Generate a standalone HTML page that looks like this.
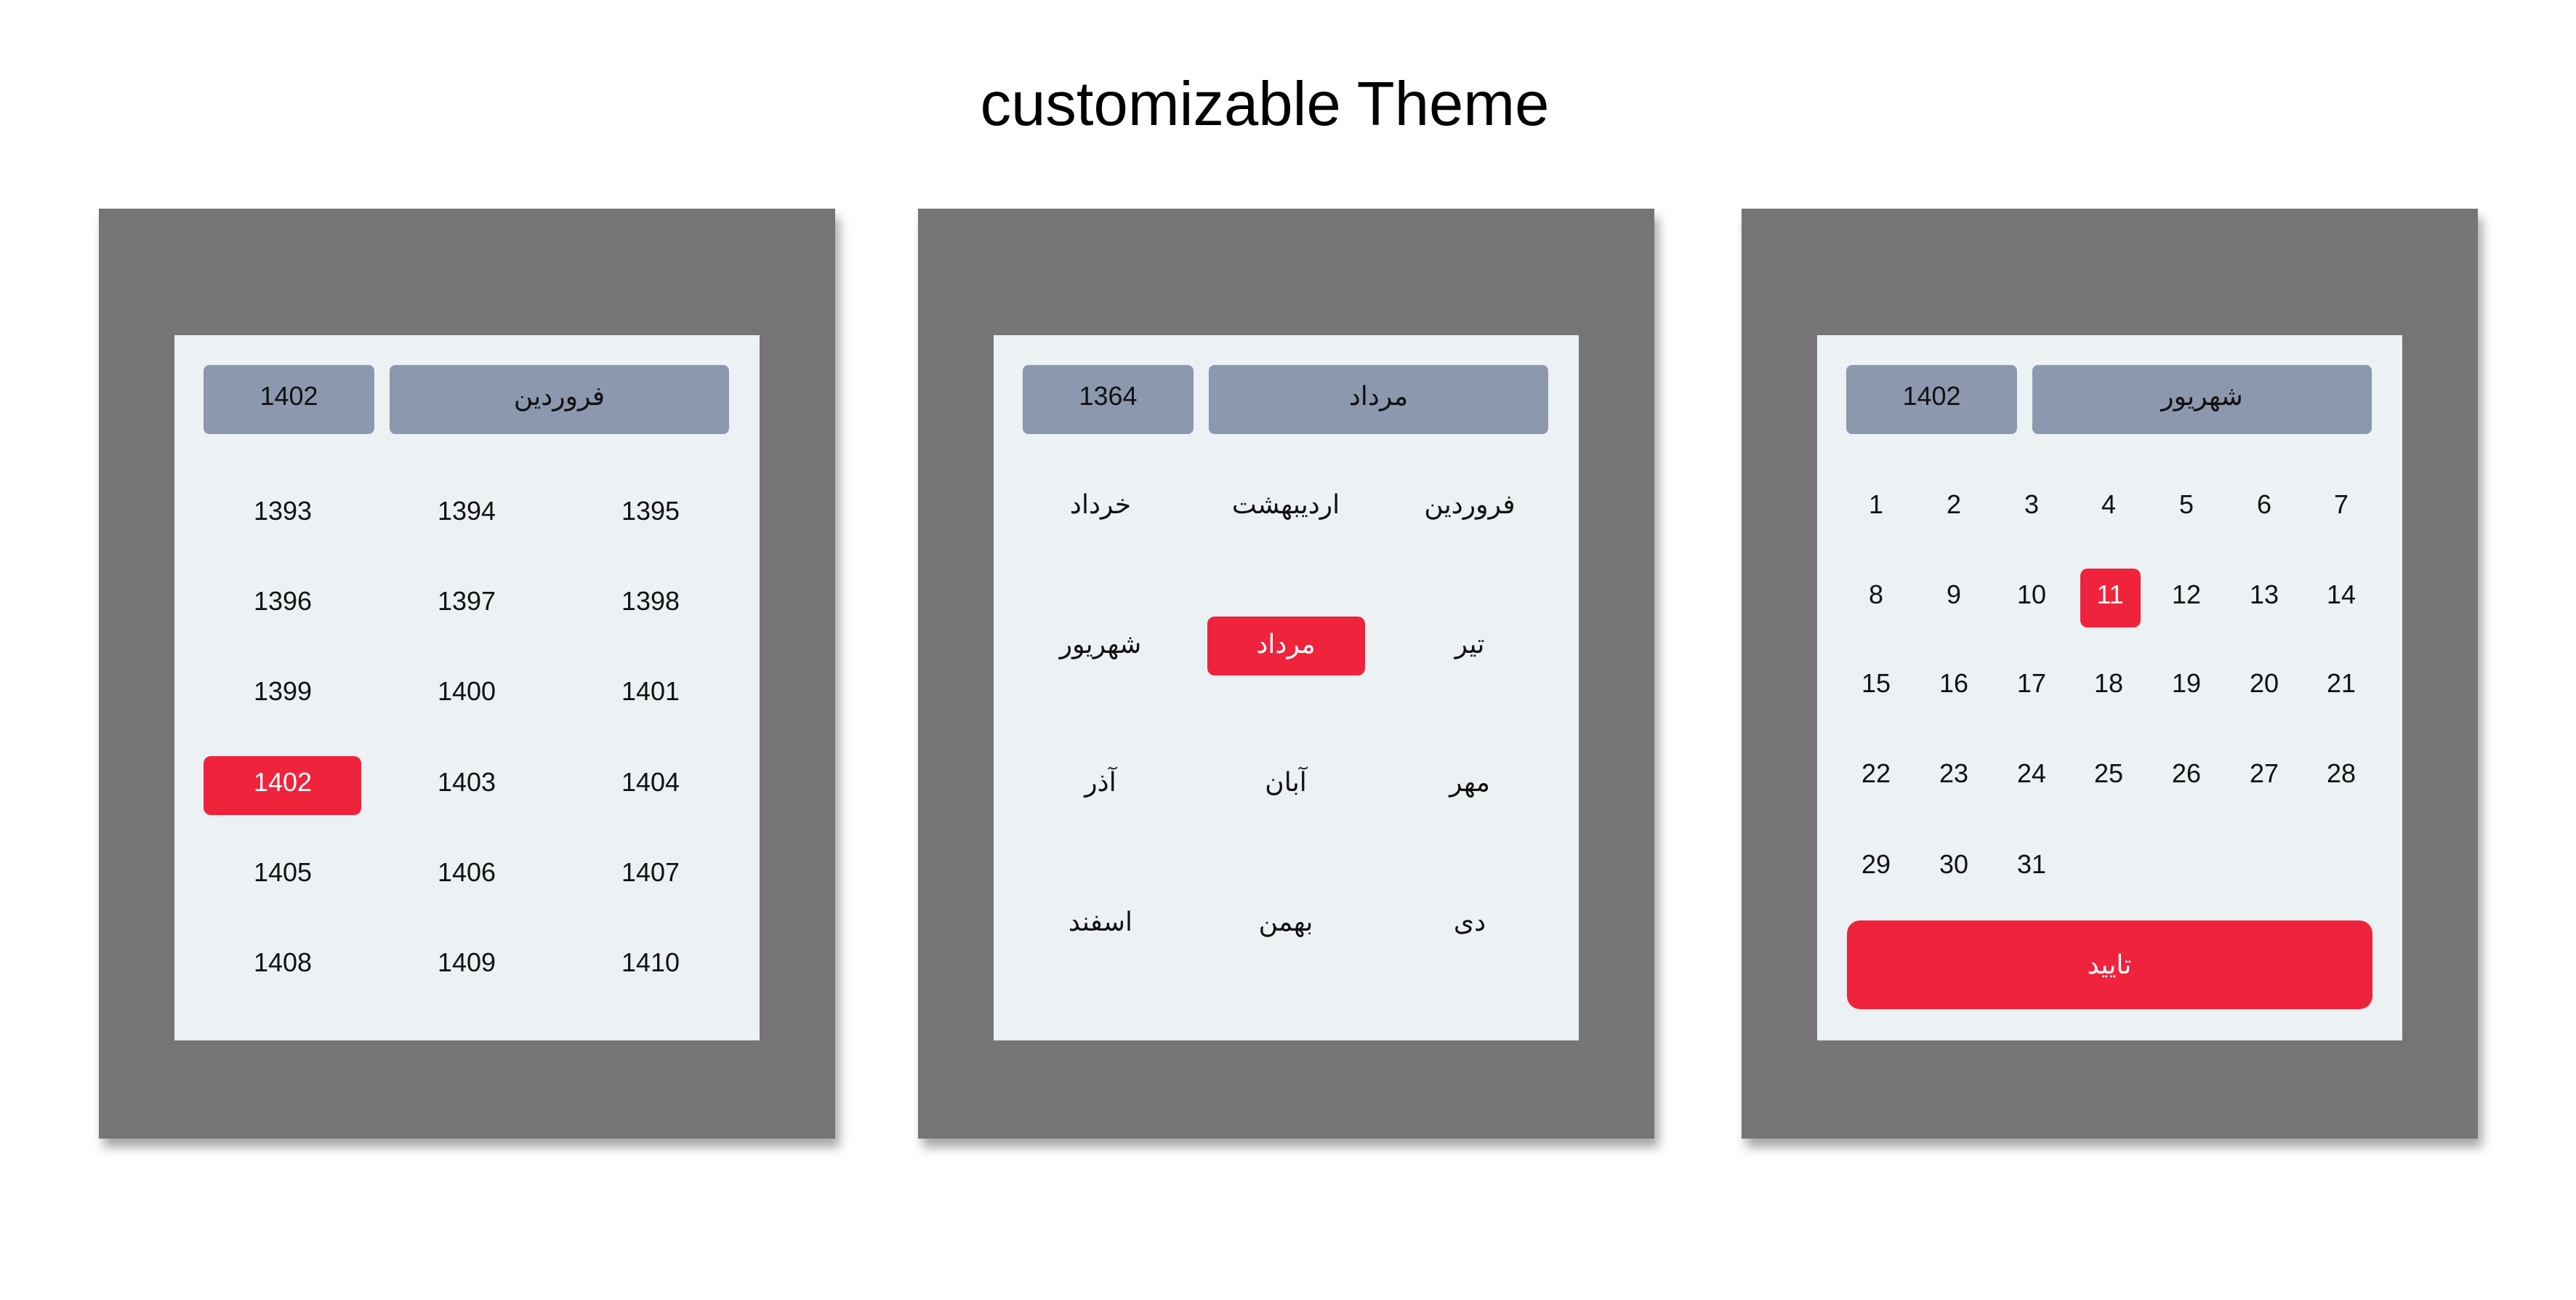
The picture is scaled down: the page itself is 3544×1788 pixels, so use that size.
<!DOCTYPE html>
<html><head><meta charset="utf-8"><style>
body{margin:0;width:3544px;height:1788px;background:#fff;position:relative;overflow:hidden;font-family:"Liberation Sans","DejaVu Sans",sans-serif;}
.title{position:absolute;left:-32px;width:3544px;top:94px;text-align:center;font-size:85px;color:#000;line-height:100px;}
.panel{position:absolute;top:287px;width:1013px;height:1279px;background:#767477;box-shadow:6px 12px 14px rgba(0,0,0,0.35);}
.inner{position:absolute;left:104px;top:174px;width:805px;height:970px;background:#ecf1f3;}
.btn{position:absolute;top:41px;height:95px;background:#8c98ae;border-radius:8px;color:#111;font-size:36px;line-height:86px;text-align:center;font-family:"Liberation Sans","DejaVu Sans",sans-serif;}
.t{position:absolute;width:220px;margin-left:-110px;text-align:center;font-size:36px;line-height:50px;margin-top:-25px;color:#111;font-family:"Liberation Sans","DejaVu Sans",sans-serif;}
.sel{position:absolute;background:#ef233c;border-radius:10px;}
.w{color:#fff;}
</style></head><body>
<div class="title">customizable Theme</div>

<div class="panel" style="left:136px"><div class="inner">
<div class="btn" style="left:40px;width:235px">1402</div>
<div class="btn" style="left:296px;width:467px">فروردین</div>
<div class="sel" style="left:40px;top:579px;width:217px;height:81px"></div>
<div class="t" style="left:149px;top:242px">1393</div><div class="t" style="left:402px;top:242px">1394</div><div class="t" style="left:655px;top:242px">1395</div>
<div class="t" style="left:149px;top:366px">1396</div><div class="t" style="left:402px;top:366px">1397</div><div class="t" style="left:655px;top:366px">1398</div>
<div class="t" style="left:149px;top:490px">1399</div><div class="t" style="left:402px;top:490px">1400</div><div class="t" style="left:655px;top:490px">1401</div>
<div class="t w" style="left:149px;top:615px">1402</div><div class="t" style="left:402px;top:615px">1403</div><div class="t" style="left:655px;top:615px">1404</div>
<div class="t" style="left:149px;top:739px">1405</div><div class="t" style="left:402px;top:739px">1406</div><div class="t" style="left:655px;top:739px">1407</div>
<div class="t" style="left:149px;top:863px">1408</div><div class="t" style="left:402px;top:863px">1409</div><div class="t" style="left:655px;top:863px">1410</div>
</div></div>

<div class="panel" style="left:1263px"><div class="inner">
<div class="btn" style="left:40px;width:235px">1364</div>
<div class="btn" style="left:296px;width:467px">مرداد</div>
<div class="sel" style="left:294px;top:387px;width:217px;height:81px"></div>
<div class="t" style="left:147px;top:233px">خرداد</div><div class="t" style="left:402px;top:233px">اردیبهشت</div><div class="t" style="left:655px;top:233px">فروردین</div>
<div class="t" style="left:147px;top:425px">شهریور</div><div class="t w" style="left:402px;top:425px">مرداد</div><div class="t" style="left:655px;top:425px">تیر</div>
<div class="t" style="left:147px;top:615px">آذر</div><div class="t" style="left:402px;top:615px">آبان</div><div class="t" style="left:655px;top:615px">مهر</div>
<div class="t" style="left:147px;top:807px">اسفند</div><div class="t" style="left:402px;top:807px">بهمن</div><div class="t" style="left:655px;top:807px">دی</div>
</div></div>

<div class="panel" style="left:2396px"><div class="inner">
<div class="btn" style="left:40px;width:235px">1402</div>
<div class="btn" style="left:296px;width:467px">شهریور</div>
<div class="sel" style="left:362px;top:321px;width:83px;height:81px"></div>
<div class="t" style="left:81px;top:233px">1</div><div class="t" style="left:188px;top:233px">2</div><div class="t" style="left:295px;top:233px">3</div><div class="t" style="left:401px;top:233px">4</div><div class="t" style="left:508px;top:233px">5</div><div class="t" style="left:615px;top:233px">6</div><div class="t" style="left:721px;top:233px">7</div>
<div class="t" style="left:81px;top:357px">8</div><div class="t" style="left:188px;top:357px">9</div><div class="t" style="left:295px;top:357px">10</div><div class="t w" style="left:403px;top:357px">11</div><div class="t" style="left:508px;top:357px">12</div><div class="t" style="left:615px;top:357px">13</div><div class="t" style="left:721px;top:357px">14</div>
<div class="t" style="left:81px;top:479px">15</div><div class="t" style="left:188px;top:479px">16</div><div class="t" style="left:295px;top:479px">17</div><div class="t" style="left:401px;top:479px">18</div><div class="t" style="left:508px;top:479px">19</div><div class="t" style="left:615px;top:479px">20</div><div class="t" style="left:721px;top:479px">21</div>
<div class="t" style="left:81px;top:603px">22</div><div class="t" style="left:188px;top:603px">23</div><div class="t" style="left:295px;top:603px">24</div><div class="t" style="left:401px;top:603px">25</div><div class="t" style="left:508px;top:603px">26</div><div class="t" style="left:615px;top:603px">27</div><div class="t" style="left:721px;top:603px">28</div>
<div class="t" style="left:81px;top:728px">29</div><div class="t" style="left:188px;top:728px">30</div><div class="t" style="left:295px;top:728px">31</div>
<div class="sel" style="left:41px;top:805px;width:723px;height:122px;border-radius:18px"></div>
<div class="t w" style="left:402px;top:866px">تایید</div>
</div></div>
</body></html>
